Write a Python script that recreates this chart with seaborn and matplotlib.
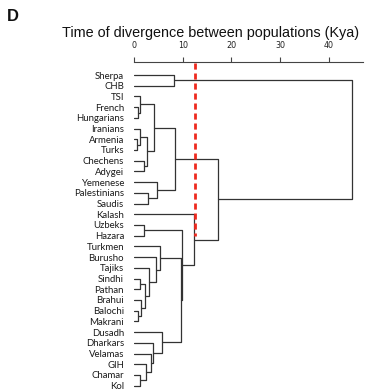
import numpy as np
import pandas as pd
import matplotlib
matplotlib.use('Agg')
import matplotlib.pyplot as plt
import seaborn as sns

# populations, top to bottom as they sit on the tree
populations = ['Sherpa', 'CHB', 'TSI', 'French', 'Hungarians', 'Iranians', 'Armenia',
               'Turks', 'Chechens', 'Adygei', 'Yemenese', 'Palestinians', 'Saudis',
               'Kalash', 'Uzbeks', 'Hazara', 'Turkmen', 'Burusho', 'Tajiks', 'Sindhi',
               'Pathan', 'Brahui', 'Balochi', 'Makrani', 'Dusadh', 'Dharkars',
               'Velamas', 'GIH', 'Chamar', 'Kol']

# merges: (left, right, time in Kya); new node ids start at len(populations)
merge_left = [3, 2, 6, 5, 8, 33, 31, 11, 10, 36, 0, 14, 22, 21, 19, 44, 18, 17, 16,
              28, 27, 26, 25, 24, 48, 41, 13, 39, 40]
merge_right = [4, 30, 7, 32, 9, 34, 35, 12, 37, 38, 1, 15, 23, 42, 20, 43, 45, 46, 47,
               29, 49, 50, 51, 52, 53, 54, 55, 56, 57]
merge_kya = [0.75, 1.25, 0.6, 1.1, 2.0, 2.7, 4.05, 2.8, 4.7, 8.3, 8.2, 2.0, 0.75, 1.45,
             1.1, 2.25, 2.95, 4.5, 5.35, 1.1, 2.5, 3.4, 3.85, 5.75, 9.65, 9.75, 12.2,
             17.2, 44.7]

cutoff_kya = 12.5
cutoff_last_row = 'Hazara'
x_ticks = [0, 10, 20, 30, 40]

# node positions
n = len(populations)
node_y = {i: float(i) for i in range(n)}
node_h = {i: 0.0 for i in range(n)}
rows = []
seg = 0
for k, (a, b, h) in enumerate(zip(merge_left, merge_right, merge_kya)):
    nid = n + k
    ya, yb = node_y[a], node_y[b]
    pts = [(node_h[a], ya), (h, ya), (h, yb), (node_h[b], yb)]
    for x, y in pts:
        rows.append({'seg': seg, 'x': x, 'y': y})
    seg += 1
    node_y[nid] = (ya + yb) / 2
    node_h[nid] = h
seg_df = pd.DataFrame(rows)

sns.set_theme(style='white')
plt.rcParams['font.family'] = ['DejaVu Sans']

W, H = 379, 392
fig = plt.figure(figsize=(W / 100, H / 100), dpi=100)
x0, x1 = 134.3, 362.7
ax = fig.add_axes([x0 / W, 0, (x1 - x0) / W, (H - 62) / H])

sns.lineplot(data=seg_df, x='x', y='y', units='seg', estimator=None, sort=False,
             color='#333333', linewidth=0.9, ax=ax)

ax.plot([cutoff_kya, cutoff_kya], [-1.1, populations.index(cutoff_last_row)],
        color='#ee2a1f', linewidth=2.0, dashes=(2.2, 1.4), zorder=5)

ax.set_xlim(0, 47)
ax.set_ylim(n - 1 + 0.59, -1.214)
ax.set_xlabel('')
ax.set_ylabel('')

for s in ['left', 'right', 'bottom']:
    ax.spines[s].set_visible(False)
ax.spines['top'].set_color('#444444')
ax.spines['top'].set_linewidth(0.8)

ax.xaxis.tick_top()
ax.set_xticks(x_ticks)
ax.set_xticklabels([str(t) for t in x_ticks], fontsize=5.8, color='#222222')
ax.tick_params(axis='x', which='major', top=True, bottom=False, direction='out',
               length=3.4, width=0.8, color='#444444', pad=5.5)

ax.set_yticks(range(n))
ax.set_yticklabels(populations, fontsize=6.9, color='#1a1a1a', family='Lato')
ax.tick_params(axis='y', left=False, length=0, pad=7.4)

fig.text(211 / W, 1 - 33.5 / H, 'Time of divergence between populations (Kya)',
         ha='center', va='center', fontsize=10.4, family='Liberation Sans', color='#111111')
fig.text(7 / W, 1 - 16.5 / H, 'D', ha='left', va='center', fontsize=12,
         fontweight='bold', family='Liberation Sans', color='#111111')

fig.savefig('out.png', dpi=100)
